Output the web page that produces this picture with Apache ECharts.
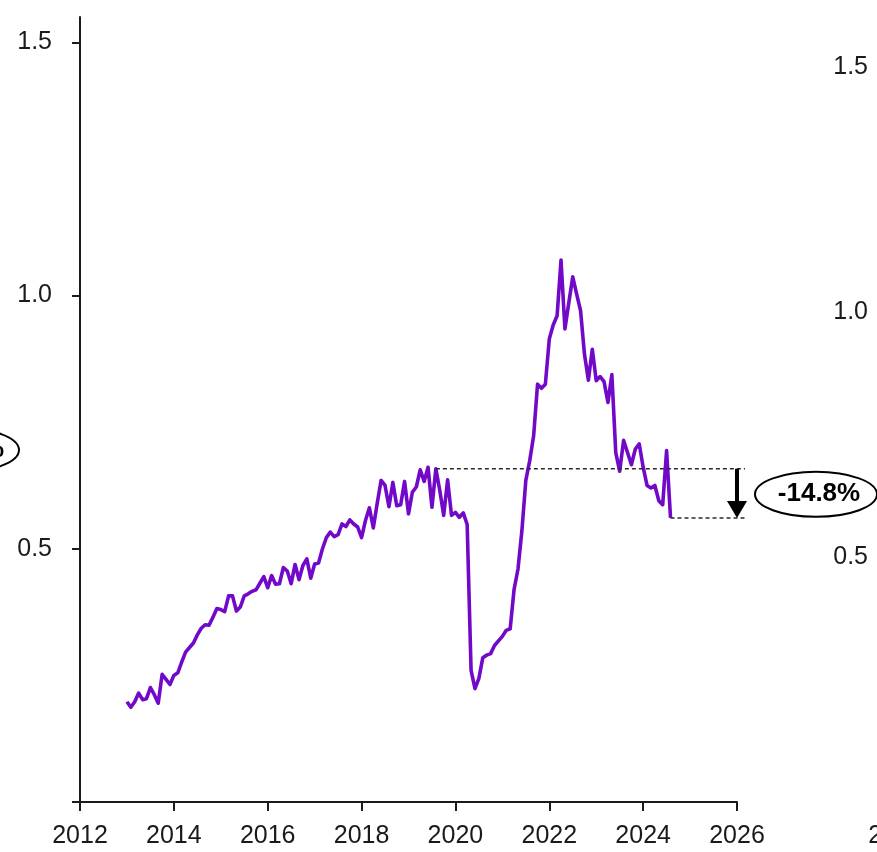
<!DOCTYPE html>
<html><head><meta charset="utf-8">
<script src="https://cdn.jsdelivr.net/npm/echarts@6/dist/echarts.min.js"></script>
<style>html,body{margin:0;padding:0;background:#fff}#c{width:877px;height:852px}</style>
</head><body><div id="c"></div>
<script>
// Monthly series, Jan 2013 .. Aug 2024
const startYear = 2013;
const values = [
0.198,0.187,0.198,0.215,0.202,0.204,0.226,0.212,0.195,0.252,0.242,0.232,
0.250,0.255,0.276,0.296,0.305,0.314,0.330,0.343,0.350,0.349,0.365,0.382,
0.380,0.376,0.407,0.407,0.377,0.385,0.407,0.411,0.416,0.419,0.432,0.445,
0.423,0.447,0.430,0.431,0.463,0.456,0.431,0.469,0.439,0.467,0.480,0.442,
0.470,0.472,0.500,0.522,0.533,0.524,0.528,0.549,0.544,0.557,0.549,0.543,
0.522,0.556,0.581,0.541,0.590,0.635,0.625,0.583,0.631,0.585,0.587,0.633,
0.569,0.612,0.622,0.656,0.633,0.661,0.582,0.658,0.615,0.566,0.636,0.566,
0.572,0.562,0.571,0.548,0.260,0.224,0.244,0.285,0.290,0.293,0.309,0.318,
0.327,0.339,0.342,0.420,0.460,0.536,0.635,0.674,0.723,0.825,0.817,0.825,
0.914,0.942,0.960,1.070,0.934,0.986,1.037,1.003,0.970,0.884,0.833,0.894,
0.832,0.840,0.830,0.789,0.844,0.690,0.653,0.714,0.690,0.666,0.697,0.707,
0.661,0.625,0.620,0.625,0.595,0.587,0.694,0.561
];
const peakIndex = 79;
const lastIndex = values.length - 1;
const changeLabel = '-14.8%';
const yTickValues = [0, 0.5, 1.0, 1.5];
const yLabelValues = [0.5, 1.0, 1.5];
const xMin = 2012, xMax = 2026, xStep = 2;
const sideFirstYear = '2012';

const ink = '#1a1a1a';
const fontFam = '"Liberation Sans", Arial, sans-serif';
const seriesData = values.map((v, i) => [startYear + i / 12, v]);

const chart = echarts.init(document.getElementById('c'), null, {renderer: 'canvas'});

function xAxisCfg(gi, show) {
  return {
    type: 'value', gridIndex: gi, min: xMin, max: xMax, interval: xStep,
    axisLine: {show: show, onZero: false, lineStyle: {color: ink, width: 2}},
    axisTick: {show: show, length: 9, lineStyle: {color: ink, width: 2}},
    axisLabel: {show: show, fontSize: 25, color: ink, fontFamily: fontFam, margin: 22, formatter: v => String(v)},
    splitLine: {show: false}
  };
}
function yAxisCfg(gi, max, showLine) {
  return {
    type: 'value', gridIndex: gi, min: 0, max: max,
    axisLine: {show: showLine, lineStyle: {color: ink, width: 2}},
    axisTick: {show: showLine, length: 8, lineStyle: {color: ink, width: 2}, customValues: yTickValues},
    axisLabel: {fontSize: 25, color: ink, fontFamily: fontFam, margin: 28,
      customValues: yLabelValues, formatter: v => Number(v).toFixed(1)},
    splitLine: {show: false}
  };
}

chart.setOption({
  animation: false,
  backgroundColor: '#fff',
  grid: [
    {left: 80, right: 140, top: 17, bottom: 50},
    {left: 896, width: 600, top: 18, bottom: 50}
  ],
  xAxis: [xAxisCfg(0, true), xAxisCfg(1, false)],
  yAxis: [yAxisCfg(0, 1.55, true), yAxisCfg(1, 1.6, false)],
  series: [{
    type: 'line', xAxisIndex: 0, yAxisIndex: 0, data: seriesData,
    showSymbol: false, symbol: 'none', smooth: false,
    lineStyle: {color: '#7209C8', width: 3.6, join: 'round'}
  }]
});

const pPeak = chart.convertToPixel({gridIndex: 0}, seriesData[peakIndex]);
const pLast = chart.convertToPixel({gridIndex: 0}, seriesData[lastIndex]);
const pEnd = chart.convertToPixel({gridIndex: 0}, [xMax, 0]);
const pSide = chart.convertToPixel({gridIndex: 1}, [xMin, 0]);
const xr = pEnd[0] + 8;
const ax = pEnd[0];
const midY = (pPeak[1] + pLast[1]) / 2;
const dash = {stroke: '#2a2a2a', lineWidth: 1.5, lineDash: [4, 3]};

chart.setOption({
  graphic: [
    {type: 'line', shape: {x1: pPeak[0], y1: pPeak[1], x2: xr, y2: pPeak[1]}, style: dash, z: 5},
    {type: 'line', shape: {x1: pLast[0], y1: pLast[1], x2: xr, y2: pLast[1]}, style: dash, z: 5},
    {type: 'rect', shape: {x: ax - 2, y: pPeak[1], width: 4, height: pLast[1] - pPeak[1] - 15}, style: {fill: '#000'}, z: 6},
    {type: 'polygon', shape: {points: [[ax - 10, pLast[1] - 17], [ax + 10, pLast[1] - 17], [ax, pLast[1]]]}, style: {fill: '#000'}, z: 6},
    {type: 'ellipse', shape: {cx: xr + 71, cy: midY + 1, rx: 61, ry: 22.5}, style: {fill: '#fff', stroke: '#000', lineWidth: 2}, z: 6},
    {type: 'text', x: xr + 74, y: midY + 1, style: {text: changeLabel, fontSize: 26, fontWeight: 'bold', fontFamily: fontFam, fill: '#000', align: 'center', verticalAlign: 'middle'}, z: 7},
    {type: 'ellipse', shape: {cx: -42, cy: 450, rx: 61, ry: 22.5}, style: {fill: '#fff', stroke: '#000', lineWidth: 2}, z: 6},
    {type: 'text', x: 4, y: 450, style: {text: '%', fontSize: 26, fontWeight: 'bold', fontFamily: fontFam, fill: '#000', align: 'right', verticalAlign: 'middle'}, z: 7},
    {type: 'text', x: pSide[0], y: pSide[1] + 22, style: {text: sideFirstYear, fontSize: 25, fontFamily: fontFam, fill: ink, align: 'center', verticalAlign: 'top'}, z: 7}
  ]
});
</script>
</body></html>
